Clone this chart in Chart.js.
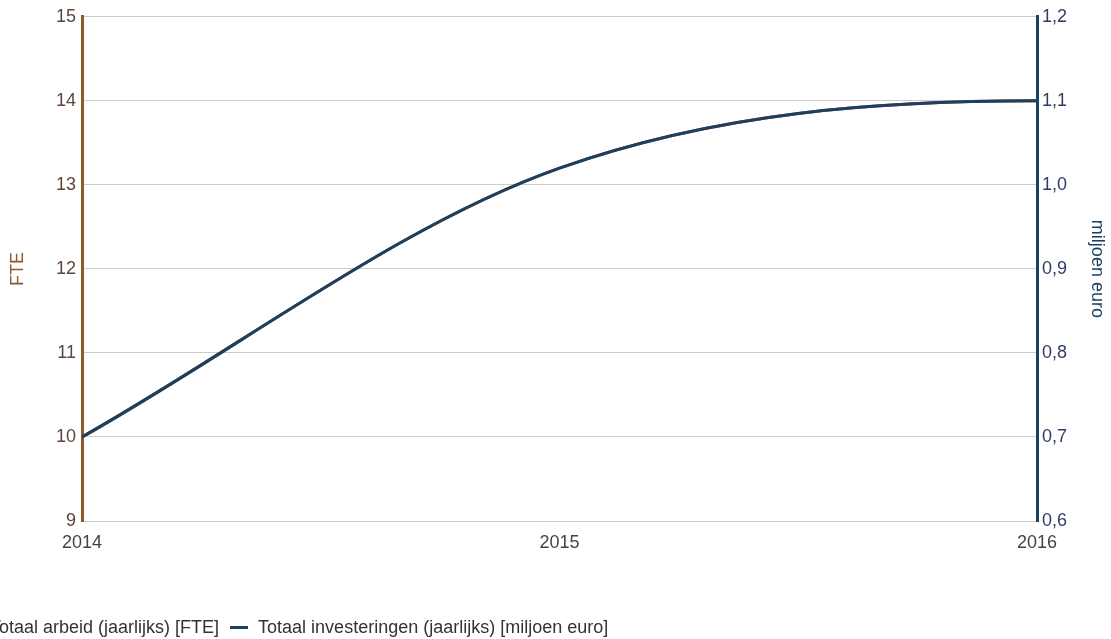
<!DOCTYPE html>
<html>
<head>
<meta charset="utf-8">
<script src="https://cdn.jsdelivr.net/npm/chart.js@4"></script>
<style>
  html, body { margin: 0; padding: 0; background: #fff; overflow: hidden; }
  #wrap { position: relative; width: 1111px; height: 639px; }
  #legend {
    position: absolute; top: 617px; left: -38px; white-space: nowrap;
    font: 18px "Liberation Sans", Arial, sans-serif; line-height: 20px; color: #333;
    display: flex; align-items: center;
  }
  #legend .mark { display: inline-block; width: 18px; height: 3px; margin-right: 10px; }
  #legend .item { display: flex; align-items: center; margin-right: 11px; }
</style>
</head>
<body>
<div id="wrap">
  <canvas id="c" width="1111" height="639"></canvas>
  <div id="legend"></div>
</div>
<script>
'use strict';

// years (2017 lies outside the visible window, the line is flat there)
var years = [2014, 2015, 2016, 2017];
var arbeidFTE = [10, 13.2, 14, 14];
var investeringen = [0.7, 1.02, 1.1, 1.1];
var fteTicks = [9, 10, 11, 12, 13, 14, 15];
var euroTicks = [0.6, 0.7, 0.8, 0.9, 1.0, 1.1, 1.2];

var labelArbeid = 'Totaal arbeid (jaarlijks) [FTE]';
var labelInvest = 'Totaal investeringen (jaarlijks) [miljoen euro]';

var brown = '#8c5a2c';
var navy = '#1d3f60';

function points (ys) {
  var out = [];
  for (var i = 0; i < years.length; i++) {
    out.push({ x: years[i], y: ys[i] });
  }
  return out;
}

Chart.defaults.font.family = '"Liberation Sans", Arial, sans-serif';
Chart.defaults.font.size = 18;

var chart = new Chart(document.getElementById('c'), {
  type: 'line',
  data: {
    datasets: [{
      label: labelArbeid,
      data: points(arbeidFTE),
      yAxisID: 'y',
      borderColor: brown,
      borderWidth: 3,
      pointRadius: 0,
      cubicInterpolationMode: 'monotone',
      order: 2
    }, {
      label: labelInvest,
      data: points(investeringen),
      yAxisID: 'y1',
      borderColor: navy,
      borderWidth: 3,
      pointRadius: 0,
      cubicInterpolationMode: 'monotone',
      order: 1
    }]
  },
  options: {
    responsive: false,
    animation: false,
    layout: { padding: { top: 16, left: 0, right: 0, bottom: 0 } },
    plugins: { legend: { display: false }, tooltip: { enabled: false } },
    scales: {
      x: {
        type: 'linear',
        min: 2014,
        max: 2016,
        grid: { display: false, drawTicks: false },
        border: { display: false },
        ticks: {
          stepSize: 1,
          padding: 11,
          color: '#444',
          callback: function (v) { return String(v); }
        },
        afterFit: function (s) { s.height = 118; }
      },
      y: {
        position: 'left',
        min: 9,
        max: 15,
        afterBuildTicks: function (s) { s.ticks = fteTicks.map(function (v) { return { value: v }; }); },
        grid: { color: '#cccccc', drawTicks: false },
        border: { color: brown, width: 3 },
        ticks: { padding: 6, color: '#5e4638' },
        title: { display: true, text: 'FTE', color: brown, padding: { top: 7 } },
        afterFit: function (s) { s.width = 82; }
      },
      y1: {
        position: 'right',
        min: 0.6,
        max: 1.2,
        afterBuildTicks: function (s) { s.ticks = euroTicks.map(function (v) { return { value: v }; }); },
        grid: { display: false, drawTicks: false },
        border: { color: navy, width: 3 },
        ticks: {
          padding: 5,
          color: '#2f3d66',
          callback: function (v) { return v.toFixed(1).replace('.', ','); }
        },
        title: { display: true, text: 'miljoen euro', color: navy, padding: { top: 3 } },
        afterFit: function (s) { s.width = 74; }
      }
    }
  }
});

// legend as html, built from the datasets
var legend = document.getElementById('legend');
chart.data.datasets.forEach(function (ds) {
  var item = document.createElement('span');
  item.className = 'item';
  var mark = document.createElement('span');
  mark.className = 'mark';
  mark.style.background = ds.borderColor;
  item.appendChild(mark);
  item.appendChild(document.createTextNode(ds.label));
  legend.appendChild(item);
});
</script>
</body>
</html>
